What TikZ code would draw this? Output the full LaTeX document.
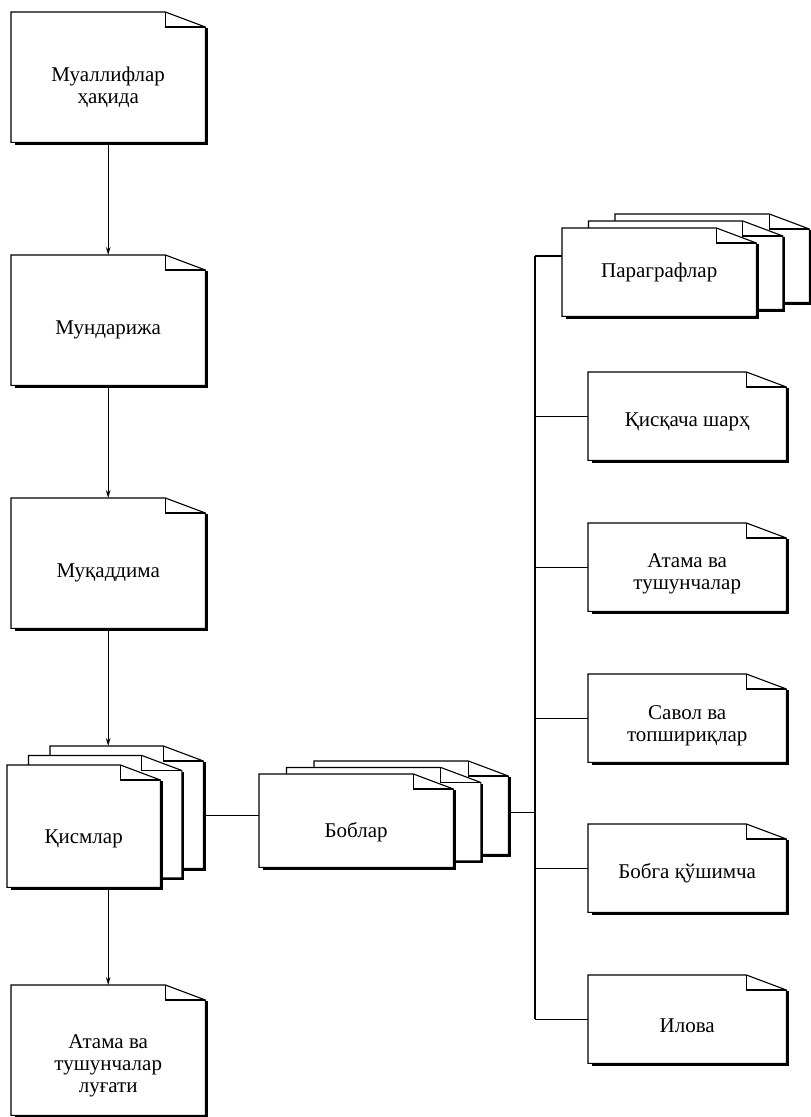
\documentclass[tikz,border=0pt]{standalone}
\usepackage{fontspec}
\setmainfont{Liberation Serif}
\usetikzlibrary{arrows.meta}

\begin{document}
\begin{tikzpicture}[x=1pt,y=-1pt,
  docpage/.style={anchor=north west,inner sep=2pt,align=center,
    font=\fontsize{21}{22}\selectfont,
    append after command={\pgfextra{
      \filldraw[fill=white,line width=1.1pt]
        (\tikzlastnode.north west) -- ([xshift=-40pt]\tikzlastnode.north east)
        -- ([yshift=-15pt]\tikzlastnode.north east) -- (\tikzlastnode.south east)
        -- (\tikzlastnode.south west) -- cycle;
      \draw[line width=1.1pt] ([xshift=-40pt]\tikzlastnode.north east)
        |- ([yshift=-15pt]\tikzlastnode.north east);
      \draw[line width=2.6pt] ([shift={(1pt,-16pt)}]\tikzlastnode.north east)
        |- ([shift={(4pt,-1pt)}]\tikzlastnode.south west);
    }}},
  leftpage/.style={docpage,minimum width=194pt,minimum height=130pt,text height=34pt},
  rightpage/.style={docpage,minimum width=198pt,minimum height=88pt,text height=26pt},
  partpage/.style={docpage,minimum width=153pt,minimum height=122pt,text height=40pt},
  chappage/.style={docpage,minimum width=194pt,minimum height=93pt,text height=38pt},
  parpage/.style={docpage,minimum width=194pt,minimum height=88pt},
  conn/.style={line width=1.1pt},
  arr/.style={line width=1.1pt,-{Stealth[length=8pt,width=4.5pt]}}]
\useasboundingbox (0,0) rectangle (811,1117);

% left column
\node[leftpage,text height=57pt] (muall) at (11,12) {Муаллифлар\\ҳақида};
\node[leftpage] (mund) at (11,255) {Мундарижа};
\node[leftpage] (muqad) at (11,498) {Муқаддима};
\node[partpage] (kism3) at (50,746) {};
\node[partpage] (kism2) at (28.5,755.5) {};
\node[partpage] (kism1) at (7,765) {Қисмлар};
\node[leftpage,text height=89pt] (lugat) at (11,985) {Атама ва\\тушунчалар\\луғати};

% chapters
\node[chappage] (bob3) at (314,761) {};
\node[chappage] (bob2) at (286.5,767.5) {};
\node[chappage] (bob1) at (259,774) {Боблар};

% right column
\node[parpage] (par3) at (615,214) {};
\node[parpage] (par2) at (588.5,221) {};
\node[parpage] (par1) at (562,228) {Параграфлар};
\node[rightpage] (sharh) at (588,372) {Қисқача шарҳ};
\node[rightpage,text height=49pt] (atama) at (588,523) {Атама ва\\тушунчалар};
\node[rightpage,text height=51pt] (savol) at (588,674) {Савол ва\\топшириқлар};
\node[rightpage] (qushim) at (588,824) {Бобга қўшимча};
\node[rightpage] (ilova) at (588,975) {Илова};

% connectors
\draw[arr] (muall.south) -- (mund.north);
\draw[arr] (mund.south) -- (muqad.north);
\draw[arr] (muqad.south) -- (muqad.south |- kism3.north);
\draw[arr] (lugat.north |- kism1.south) -- (lugat.north);
\draw[conn] ([yshift=-8pt]kism3.east) -- ([yshift=-8pt]kism3.east -| bob1.west);

\coordinate (bustop) at (535,256);
\coordinate (busbot) at (bustop |- ilova.west);
\draw[conn] (bustop) -- (busbot);
\draw[conn] (bustop) -- (bustop -| par1.west);
\draw[conn] ([yshift=-4.5pt]bob3.east) -- ([yshift=-4.5pt]bob3.east -| bustop);
\foreach \n in {sharh,atama,savol,qushim,ilova}
  \draw[conn] (\n.west -| bustop) -- (\n.west);
\end{tikzpicture}
\end{document}
